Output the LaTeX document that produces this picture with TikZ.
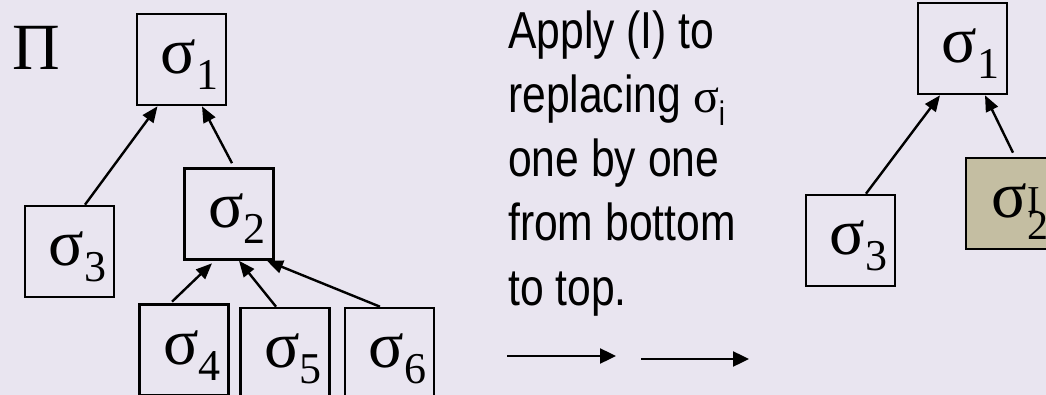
\documentclass[tikz,border=0pt]{standalone}
\usepackage{fontspec}
\setmainfont{Liberation Serif}
\setsansfont{Liberation Sans}
\newfontfamily\narrowsans[FakeStretch=0.82]{Liberation Sans}
\usetikzlibrary{arrows.meta}

\definecolor{slidebg}{RGB}{233,229,240}
\definecolor{tanfill}{RGB}{196,190,162}

\newcommand{\subsz}{\fontsize{44}{44}\selectfont}
\newcommand{\sig}[1]{\hspace*{16pt}σ\raisebox{-16pt}{\subsz #1}}

\begin{document}
\begin{tikzpicture}[
  x=1pt, y=-1pt,
  sbox/.style={
    draw, line width=2.6pt,
    minimum width=89pt, minimum height=91pt, inner sep=0pt,
    font=\fontsize{66}{66}\selectfont,
    text height=44pt, text depth=16pt,
  },
  link/.style={-{Triangle[length=16pt,width=13pt]}, line width=2.4pt},
  step arrow/.style={-{Triangle[length=16pt,width=15pt]}, line width=2.4pt},
  note/.style={font=\narrowsans\fontsize{52}{64}\selectfont, align=left, inner sep=0pt},
]

\fill[slidebg] (0,0) rectangle (1046,395);
\clip (0,0) rectangle (1046,395);

% tree before
\node[font=\fontsize{66}{66}\selectfont, anchor=base west, inner sep=0pt] (pi) at (12,70) {Π};
\node[sbox] (s1) at (181.5,59.5) {\sig{1}};
\node[sbox] (s3) at (69.5,251.5) {\sig{3}};
\node[sbox] (s2) at (229,214) {\sig{2}};
\node[sbox] (s4) at (184,350) {\sig{4}};
\node[sbox] (s5) at (285,353.5) {\sig{5}};
\node[sbox] (s6) at (389.5,353.5) {\sig{6}};

\draw[link] ([xshift=15.5pt]s3.north) -- ([xshift=-24pt]s1.south);
\draw[link] ([xshift=3pt,yshift=4pt]s2.north) -- ([xshift=20.5pt]s1.south);
\draw[link] ([xshift=-12pt,yshift=1.5pt]s4.north) -- ([xshift=-17pt,yshift=-2.5pt]s2.south);
\draw[link] ([xshift=-9pt]s5.north) -- ([xshift=10pt]s2.south);
\draw[link] ([xshift=-9.5pt]s6.north) -- ([xshift=38pt]s2.south);

% explanation
\node[note, anchor=base west] (txt) at (508,305)
  {Apply (I) to\\replacing {\rmfamily\fontsize{48}{48}\selectfont σ}\raisebox{-13pt}{\fontsize{34}{34}\selectfont i}\\one by one\\from bottom\\to top.};

\coordinate (a1) at (507,356);
\coordinate (a2) at (616,356);
\coordinate (b1) at (641,359);
\coordinate (b2) at (749,359);
\draw[step arrow] (a1) -- (a2);
\draw[step arrow] (b1) -- (b2);

% tree after
\node[sbox] (r1) at (962.5,48.5) {\sig{1}};
\node[sbox] (r3) at (850.5,240.5) {\sig{3}};
\node[sbox, fill=tanfill] (r2) at (1010.5,203.5)
  {\hspace*{19pt}σ\rlap{\raisebox{5pt}{\fontsize{38}{38}\selectfont I}}\raisebox{-22pt}{\fontsize{42}{42}\selectfont 2}};

\draw[link] ([xshift=15.5pt]r3.north) -- ([xshift=-22.5pt]r1.south);
\draw[link] ([xshift=2.5pt,yshift=4pt]r2.north) -- ([xshift=22.5pt]r1.south);

\end{tikzpicture}
\end{document}
